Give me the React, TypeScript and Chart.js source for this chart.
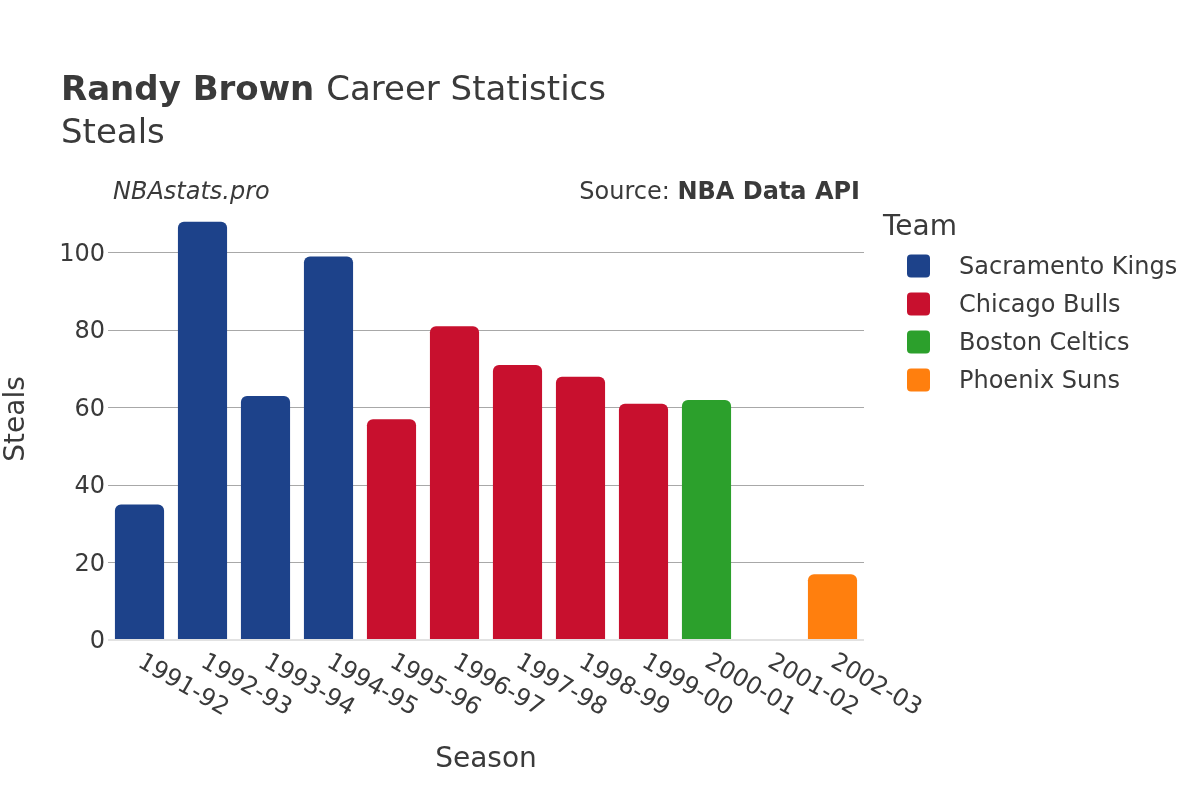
import React, { useEffect, useRef } from "react";
import { Chart, registerables } from "chart.js";

Chart.register(...registerables);

const seasons = ["1991-92", "1992-93", "1993-94", "1994-95", "1995-96", "1996-97", "1997-98", "1998-99", "1999-00", "2000-01", "2001-02", "2002-03"];
const kingsSteals = [35, 108, 63, 99, null, null, null, null, null, null, null, null];
const bullsSteals = [null, null, null, null, 57, 81, 71, 68, 61, null, null, null];
const celticsSteals = [null, null, null, null, null, null, null, null, null, 62, 0, null];
const sunsSteals = [null, null, null, null, null, null, null, null, null, null, null, 17];
const teamNames = ["Sacramento Kings", "Chicago Bulls", "Boston Celtics", "Phoenix Suns"];
const teamColors = ["#1d428a", "#c8102e", "#2ca02c", "#ff7f0e"];
const yTicks = [0, 20, 40, 60, 80, 100];

const FONT = "'DejaVu Sans', sans-serif";
const TEXT = "#3a3a3a";

const overlay = {
  id: "overlay",
  afterDraw(chart: any) {
    const ctx = chart.ctx;
    const area = chart.chartArea;
    const xs = chart.scales.x;
    ctx.save();
    ctx.fillStyle = TEXT;
    ctx.textBaseline = "alphabetic";
    // Title
    ctx.textAlign = "left";
    ctx.font = `bold 34px ${FONT}`;
    const bold = "Randy Brown";
    ctx.fillText(bold, 61, 100);
    const w = ctx.measureText(bold + " ").width;
    ctx.font = `34px ${FONT}`;
    ctx.fillText("Career Statistics", 61 + w, 100);
    ctx.fillText("Steals", 61, 143);
    // annotations
    ctx.font = `italic 24px ${FONT}`;
    ctx.fillText("NBAstats.pro", 113, 199);
    ctx.textAlign = "right";
    ctx.font = `bold 24px ${FONT}`;
    const src = "NBA Data API";
    ctx.fillText(src, 860, 199);
    const sw = ctx.measureText(src).width;
    ctx.font = `24px ${FONT}`;
    ctx.fillText("Source: ", 860 - sw, 199);
    // x tick labels
    ctx.font = `24px ${FONT}`;
    ctx.textAlign = "left";
    ctx.textBaseline = "top";
    seasons.forEach((s, i) => {
      const cx = xs.getPixelForTick(i);
      ctx.save();
      ctx.translate(cx + 6, 650);
      ctx.rotate(Math.PI / 6);
      ctx.fillText(s, 0, 0);
      ctx.restore();
    });
    // axis titles
    ctx.textBaseline = "middle";
    ctx.textAlign = "center";
    ctx.font = `28px ${FONT}`;
    ctx.fillText("Season", (area.left + area.right) / 2, 760);
    ctx.save();
    ctx.translate(17, 419);
    ctx.rotate(-Math.PI / 2);
    ctx.fillText("Steals", 0, 0);
    ctx.restore();
    // legend
    ctx.textAlign = "left";
    ctx.font = `28px ${FONT}`;
    ctx.fillText("Team", 883, 228);
    ctx.font = `24px ${FONT}`;
    chart.data.datasets.forEach((ds: any, i: number) => {
      const cy = 266 + i * 38;
      ctx.fillStyle = ds.backgroundColor;
      ctx.beginPath();
      (ctx as any).roundRect(907, cy - 11.5, 23, 23, 4);
      ctx.fill();
      ctx.fillStyle = TEXT;
      ctx.fillText(ds.label, 959, cy + 2);
    });
    ctx.restore();
  },
};

export default function App() {
  const ref = useRef<HTMLCanvasElement>(null);
  useEffect(() => {
    const series = [kingsSteals, bullsSteals, celticsSteals, sunsSteals];
    const chart = new Chart(ref.current!, {
      type: "bar",
      data: {
        labels: seasons,
        datasets: series.map((d, i) => ({
          label: teamNames[i],
          data: d,
          backgroundColor: teamColors[i],
          borderRadius: 6,
          borderSkipped: "bottom",
          barPercentage: 0.78,
          categoryPercentage: 1,
        })),
      },
      options: {
        responsive: false,
        animation: false,
        layout: { padding: { top: 214, right: 336, left: 0, bottom: 0 } },
        plugins: { legend: { display: false }, title: { display: false }, tooltip: { enabled: false } },
        scales: {
          x: {
            stacked: true,
            grid: { display: false },
            border: { display: false },
            ticks: { display: false },
            afterFit: (s: any) => { s.height = 160; },
          },
          y: {
            stacked: true,
            min: 0,
            max: 110,
            afterBuildTicks: (s: any) => { s.ticks = yTicks.map((v) => ({ value: v })); },
            afterFit: (s: any) => { s.width = 108; },
            border: { display: false },
            grid: {
              drawTicks: false,
              color: (c: any) => (c.tick && c.tick.value === 0 ? "#e2e2e2" : "#a8a8a8"),
              lineWidth: (c: any) => (c.tick && c.tick.value === 0 ? 2 : 1),
            },
            ticks: { color: TEXT, font: { family: FONT, size: 24 }, padding: 3, labelOffset: 2 },
          },
        },
      },
      plugins: [overlay],
    });
    return () => chart.destroy();
  }, []);
  return (
    <div style={{ position: "absolute", left: 0, top: 0, width: 1200, height: 800, background: "#fff" }}>
      <canvas ref={ref} width={1200} height={800} />
    </div>
  );
}
